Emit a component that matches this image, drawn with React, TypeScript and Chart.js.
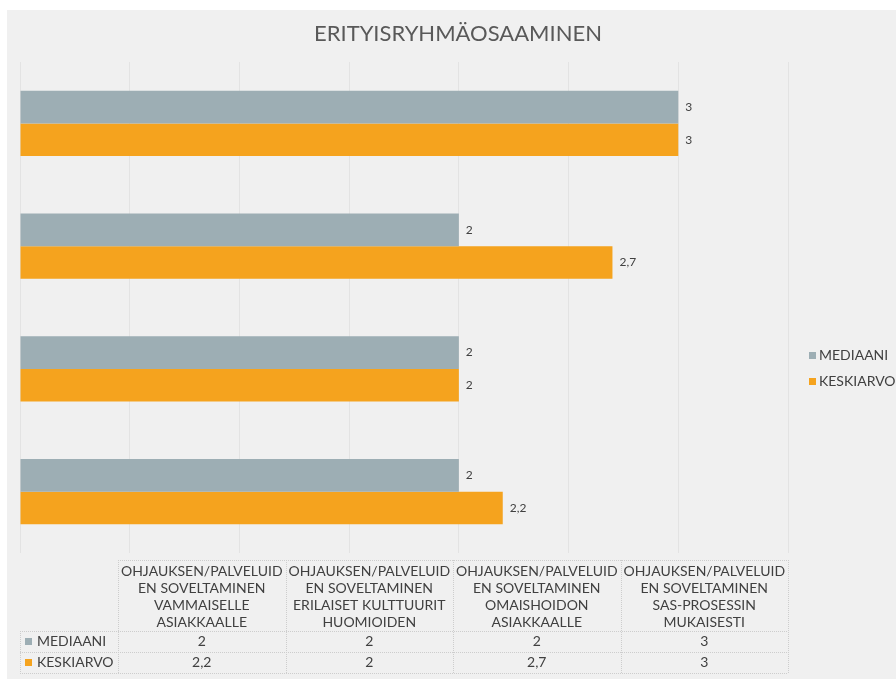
import React, { useEffect, useRef } from "react";
import { Chart, registerables } from "chart.js";

Chart.register(...registerables);

const TITLE = "ERITYISRYHMÄOSAAMINEN";
const categories: string[][] = [
  ["OHJAUKSEN/PALVELUID", "EN SOVELTAMINEN", "VAMMAISELLE", "ASIAKKAALLE"],
  ["OHJAUKSEN/PALVELUID", "EN SOVELTAMINEN", "ERILAISET KULTTUURIT", "HUOMIOIDEN"],
  ["OHJAUKSEN/PALVELUID", "EN SOVELTAMINEN", "OMAISHOIDON", "ASIAKKAALLE"],
  ["OHJAUKSEN/PALVELUID", "EN SOVELTAMINEN", "SAS-PROSESSIN", "MUKAISESTI"],
];
const seriesNames = ["MEDIAANI", "KESKIARVO"];
const mediaani = [2, 2, 2, 3];
const keskiarvo = [2.2, 2, 2.7, 3];
const seriesColors = ["#9DAEB4", "#F5A31E"];
const X_MIN = 0;
const X_MAX = 3.5;
const X_STEP = 0.5;

const FONT = "Lato, 'Open Sans', sans-serif";
const TEXT = "#404040";

const fmt = (v: number) => String(v).replace(".", ",");

const valueLabels = {
  id: "valueLabels",
  afterDatasetsDraw(chart: any) {
    const ctx = chart.ctx;
    ctx.save();
    ctx.font = `12px ${FONT}`;
    ctx.fillStyle = TEXT;
    ctx.textAlign = "left";
    ctx.textBaseline = "middle";
    chart.data.datasets.forEach((ds: any, i: number) => {
      const meta = chart.getDatasetMeta(i);
      meta.data.forEach((el: any, j: number) => {
        ctx.fillText(fmt(ds.data[j]), el.x + 7, el.y);
      });
    });
    ctx.restore();
  },
};

const sideLegend = {
  id: "sideLegend",
  afterDraw(chart: any) {
    const ctx = chart.ctx;
    const x = chart.chartArea.right + 21;
    const y0 = 345.5;
    ctx.save();
    ctx.font = `14px ${FONT}`;
    ctx.textBaseline = "middle";
    ctx.textAlign = "left";
    chart.data.datasets.forEach((ds: any, i: number) => {
      const y = y0 + i * 26;
      ctx.fillStyle = ds.backgroundColor;
      ctx.fillRect(x, y - 3.5, 7, 7);
      ctx.fillStyle = TEXT;
      ctx.fillText(ds.label, x + 10, y);
    });
    ctx.restore();
  },
};

const dataTable = {
  id: "dataTable",
  afterDraw(chart: any) {
    const ctx = chart.ctx;
    const { left, right, bottom } = chart.chartArea;
    const labelW = 98;
    const colX0 = left + labelW;
    const n = chart.data.labels.length;
    const colW = (right - colX0) / n;
    const top = bottom + 7;
    const headerH = 71;
    const rowH = 21;
    const tableBottom = top + headerH + rowH * chart.data.datasets.length;

    ctx.save();
    ctx.strokeStyle = "#cdcdcd";
    ctx.lineWidth = 1;
    ctx.setLineDash([1, 1]);
    const hline = (y: number, x1: number, x2: number) => {
      ctx.beginPath();
      ctx.moveTo(x1, Math.round(y) + 0.5);
      ctx.lineTo(x2, Math.round(y) + 0.5);
      ctx.stroke();
    };
    const vline = (x: number, y1: number, y2: number) => {
      ctx.beginPath();
      ctx.moveTo(Math.round(x) + 0.5, y1);
      ctx.lineTo(Math.round(x) + 0.5, y2);
      ctx.stroke();
    };
    hline(top, colX0, right);
    hline(top + headerH, left, right);
    chart.data.datasets.forEach((_: any, i: number) => {
      hline(top + headerH + rowH * (i + 1), left, right);
    });
    vline(left, top + headerH, tableBottom);
    for (let i = 0; i <= n; i++) vline(colX0 + i * colW, top, tableBottom);
    ctx.setLineDash([]);

    ctx.fillStyle = TEXT;
    ctx.font = `14px ${FONT}`;
    ctx.textBaseline = "middle";
    ctx.textAlign = "center";
    (chart.data.labels as string[][]).forEach((lines, i) => {
      const cx = colX0 + colW * (i + 0.5);
      lines.forEach((ln, k) => {
        ctx.fillText(ln, cx, top + 11.5 + k * 17);
      });
    });

    chart.data.datasets.forEach((ds: any, r: number) => {
      const cy = top + headerH + rowH * (r + 0.5);
      ctx.fillStyle = ds.backgroundColor;
      ctx.fillRect(left + 5, cy - 3.5, 7, 7);
      ctx.fillStyle = TEXT;
      ctx.textAlign = "left";
      ctx.fillText(ds.label, left + 17, cy);
      ctx.textAlign = "center";
      ds.data.forEach((v: number, i: number) => {
        ctx.fillText(fmt(v), colX0 + colW * (i + 0.5), cy);
      });
    });
    ctx.restore();
  },
};

export default function App() {
  const ref = useRef<HTMLCanvasElement | null>(null);

  useEffect(() => {
    if (!ref.current) return;
    const chart = new Chart(ref.current, {
      type: "bar",
      data: {
        labels: categories,
        datasets: [
          {
            label: seriesNames[0],
            data: mediaani,
            backgroundColor: seriesColors[0],
            barPercentage: 1,
            categoryPercentage: 0.53,
          },
          {
            label: seriesNames[1],
            data: keskiarvo,
            backgroundColor: seriesColors[1],
            barPercentage: 1,
            categoryPercentage: 0.53,
          },
        ],
      },
      options: {
        indexAxis: "y",
        responsive: false,
        animation: false,
        layout: { padding: { left: 13, right: 0, top: 0, bottom: 126 } },
        plugins: {
          legend: { display: false },
          tooltip: { enabled: false },
          title: {
            display: true,
            text: TITLE,
            color: "#595959",
            font: { family: FONT, size: 22, weight: "normal" },
            padding: { top: 11, bottom: 14.6 },
          },
        },
        scales: {
          x: {
            type: "linear",
            min: X_MIN,
            max: X_MAX,
            ticks: { display: false, stepSize: X_STEP },
            grid: { color: "#e3e3e3", drawTicks: false, lineWidth: 1 },
            border: { display: false },
            afterFit: (axis: any) => {
              axis.height = 0;
            },
          },
          y: {
            position: "right",
            reverse: true,
            ticks: { display: false },
            grid: { display: false, drawTicks: false },
            border: { display: false },
            afterFit: (axis: any) => {
              axis.width = 108;
            },
          },
        },
      },
      plugins: [valueLabels, sideLegend, dataTable],
    } as any);
    return () => chart.destroy();
  }, []);

  return (
    <div
      style={{
        position: "fixed",
        left: 7,
        top: 10,
        width: 889,
        height: 669,
        background: "#F0F0F0",
        overflow: "hidden",
      }}
    >
      <canvas ref={ref} width={889} height={669} style={{ width: 889, height: 669, display: "block" }} />
    </div>
  );
}
